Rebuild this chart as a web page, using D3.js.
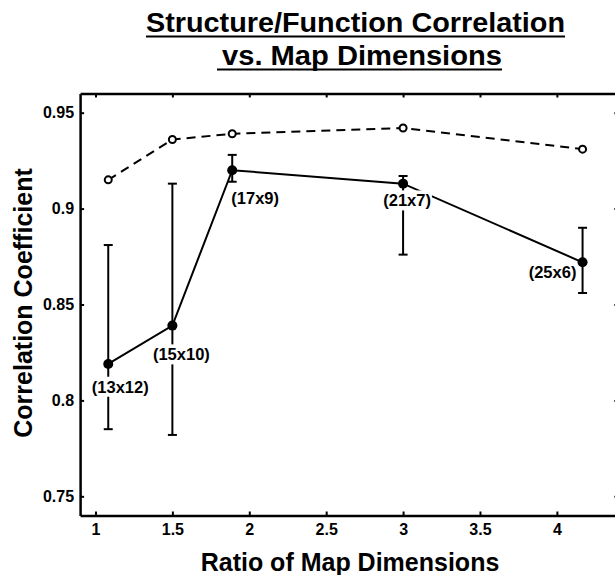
<!DOCTYPE html>
<html>
<head>
<meta charset="utf-8">
<script src="https://cdn.jsdelivr.net/npm/d3@7"></script>
<style>
  html, body { margin: 0; padding: 0; background: #fff; }
  svg { display: block; }
  text { font-family: "Liberation Sans", Arial, Helvetica, sans-serif; font-weight: bold; fill: #000; }
</style>
</head>
<body>
<svg id="chart" width="615" height="575"></svg>
<script>
// ---- data ----
const sizeLabels = ["(13x12)", "(15x10)", "(17x9)", "(21x7)", "(25x6)"];
const ratios     = [1.083, 1.5, 1.889, 3, 4.167];
const meanCorr   = [0.819, 0.839, 0.920, 0.913, 0.872];
const errUpper   = [0.881, 0.913, 0.928, 0.917, 0.890];
const errLower   = [0.785, 0.782, 0.914, 0.876, 0.856];
const bestCorr   = [0.915, 0.936, 0.939, 0.942, 0.931];
const xTicks = [1, 1.5, 2, 2.5, 3, 3.5, 4];
const yTicks = [0.75, 0.8, 0.85, 0.9, 0.95];
const titleLines = ["Structure/Function Correlation", "vs. Map Dimensions"];
const xTitle = "Ratio of Map Dimensions";
const yTitle = "Correlation Coefficient";

// ---- layout (annotation placement, px) ----
const labelOffsets = [[12, 23], [9, 29], [23, 28], [4, 17], [-30, 10]];

const svg = d3.select("#chart");
const x = d3.scaleLinear().domain([0.9, 4.4]).range([80.1, 618.4]);
const y = d3.scaleLinear().domain([0.74, 0.96]).range([515.5, 93.5]);

const pts = ratios.map((r, i) => ({
  x: r, m: meanCorr[i], hi: errUpper[i], lo: errLower[i], b: bestCorr[i],
  label: sizeLabels[i], off: labelOffsets[i]
}));

// ---- title ----
const tl = [
  { t: titleLines[0], x: 146, y: 32, len: 419, ux0: 146, ux1: 565, uy: 36.5 },
  { t: titleLines[1], x: 222, y: 65, len: 280, ux0: 217, ux1: 502, uy: 69.5 }
];
tl.forEach(d => {
  svg.append("text").attr("x", d.x).attr("y", d.y)
    .attr("font-size", 27).attr("textLength", d.len).attr("lengthAdjust", "spacingAndGlyphs")
    .text(d.t);
  svg.append("line").attr("x1", d.ux0).attr("x2", d.ux1).attr("y1", d.uy).attr("y2", d.uy)
    .attr("stroke", "#000").attr("stroke-width", 2);
});

// ---- axes ----
function styleAxis(g) {
  g.select(".domain").attr("stroke", "#000").attr("stroke-width", 2.5);
  g.selectAll(".tick line").attr("stroke", "#000").attr("stroke-width", 2);
  g.selectAll(".tick text").attr("font-size", 16).attr("font-family", "Liberation Sans, Arial, sans-serif").attr("font-weight", "bold");
}
const gx = svg.append("g").attr("transform", `translate(0,${y.range()[0]})`)
  .call(d3.axisBottom(x).tickValues(xTicks).tickSize(-4).tickSizeOuter(0).tickPadding(7).tickFormat(d3.format("")));
styleAxis(gx);
gx.selectAll(".tick text").attr("y", 19).attr("dy", null);

const gxt = svg.append("g").attr("transform", `translate(0,${y.range()[1]})`)
  .call(d3.axisTop(x).tickValues(xTicks).tickSize(-4).tickSizeOuter(0).tickFormat(""));
styleAxis(gxt);

const gy = svg.append("g").attr("transform", `translate(${x.range()[0]},0)`)
  .call(d3.axisLeft(y).tickValues(yTicks).tickSize(-4).tickSizeOuter(0).tickPadding(6).tickFormat(d3.format("")));
styleAxis(gy);

const gyr = svg.append("g").attr("transform", `translate(${x.range()[1]},0)`)
  .call(d3.axisRight(y).tickValues(yTicks).tickSize(-4).tickSizeOuter(0).tickFormat(""));
styleAxis(gyr);

// axis titles
svg.append("text").attr("x", 350).attr("y", 571).attr("text-anchor", "middle")
  .attr("font-size", 25).text(xTitle);
svg.append("text").attr("transform", "translate(32,303) rotate(-90)").attr("text-anchor", "middle")
  .attr("font-size", 25).text(yTitle);

// ---- dashed series ----
svg.append("path").datum(pts)
  .attr("d", d3.line().x(d => x(d.x)).y(d => y(d.b)))
  .attr("fill", "none").attr("stroke", "#000").attr("stroke-width", 2).attr("stroke-dasharray", "9,6");

// ---- solid series ----
svg.append("path").datum(pts)
  .attr("d", d3.line().x(d => x(d.x)).y(d => y(d.m)))
  .attr("fill", "none").attr("stroke", "#000").attr("stroke-width", 2);

// error bars
const eb = svg.append("g").attr("stroke", "#000").attr("stroke-width", 2);
pts.forEach(d => {
  eb.append("line").attr("x1", x(d.x)).attr("x2", x(d.x)).attr("y1", y(d.hi)).attr("y2", y(d.lo));
  [d.hi, d.lo].forEach(v => eb.append("line")
    .attr("x1", x(d.x) - 4.5).attr("x2", x(d.x) + 4.5).attr("y1", y(v)).attr("y2", y(v)));
});

// labels with white background
const lg = svg.append("g");
pts.forEach(d => {
  const cx = x(d.x) + d.off[0], cy = y(d.m) + d.off[1];
  const t = lg.append("text").attr("x", cx).attr("y", cy).attr("dy", "0.35em")
    .attr("text-anchor", "middle").attr("font-size", 16.5).text(d.label);
  const bb = t.node().getBBox();
  lg.insert("rect", () => t.node()).attr("x", bb.x - 1).attr("y", bb.y - 1)
    .attr("width", bb.width + 2).attr("height", bb.height + 2).attr("fill", "#fff");
});

// markers
svg.selectAll("circle.best").data(pts).join("circle").attr("class", "best")
  .attr("cx", d => x(d.x)).attr("cy", d => y(d.b)).attr("r", 3.5)
  .attr("fill", "#fff").attr("stroke", "#000").attr("stroke-width", 2);
svg.selectAll("circle.mean").data(pts).join("circle").attr("class", "mean")
  .attr("cx", d => x(d.x)).attr("cy", d => y(d.m)).attr("r", 5)
  .attr("fill", "#000");
</script>
</body>
</html>
